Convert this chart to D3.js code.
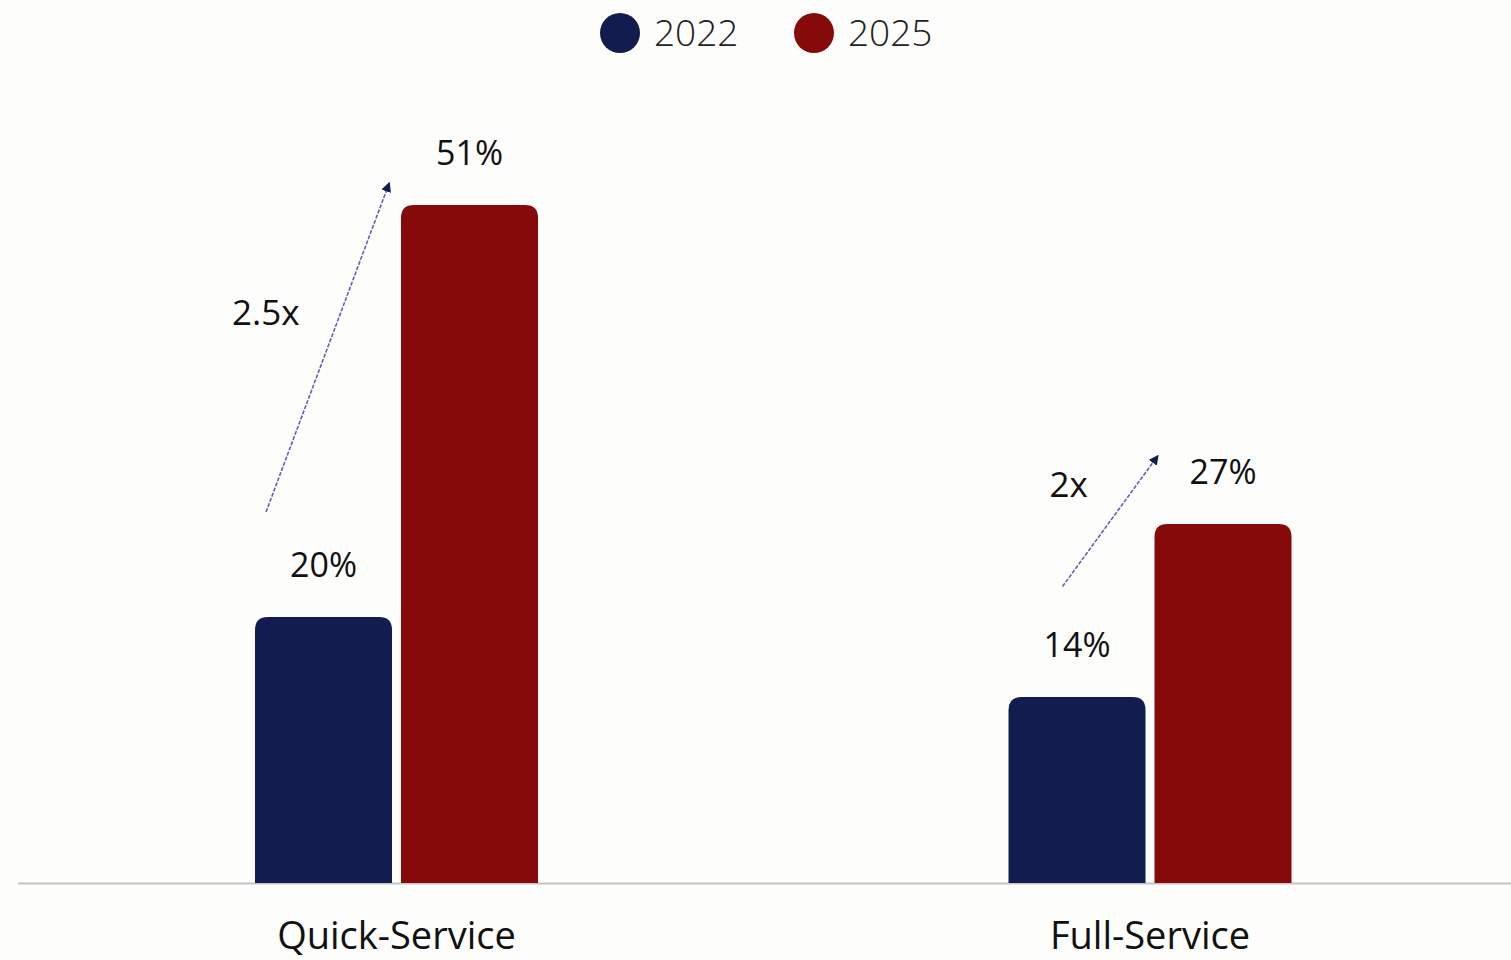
<!DOCTYPE html>
<html><head><meta charset="utf-8">
<script src="https://cdn.jsdelivr.net/npm/d3@7"></script>
<style>
html,body{margin:0;padding:0;background:#fdfdfc;}
svg{display:block;}
text{font-family:"Open Sans","Noto Sans",sans-serif;}
</style></head>
<body>
<svg id="chart" width="1511" height="960"></svg>
<script>
const categories = ["Quick-Service", "Full-Service"];
const seriesNames = ["2022", "2025"];
const values2022 = [20, 14];
const values2025 = [51, 27];
const growthLabels = ["2.5x", "2x"];
const colors = ["#131c4e", "#860a0a"];

const svg = d3.select("#chart");
const W = 1511, H = 960;
const baseY = 883;

const x = d3.scaleBand().domain(categories).range([19.75, 1526.75]).padding(0);
const xs = d3.scaleBand().domain(seriesNames).range([-141.5, 141.5]).paddingInner(9/146);
const y = d3.scaleLinear().domain([0, 51]).range([baseY, 205]);

const data = categories.map((c, i) => ({cat: c, vals: [values2022[i], values2025[i]], growth: growthLabels[i]}));

// axis baseline
svg.append("line").attr("x1", 18).attr("x2", W).attr("y1", baseY + 0.5).attr("y2", baseY + 0.5)
  .attr("stroke", "#c4c4c4").attr("stroke-width", 2);

function topRounded(x0, y0, w, h, r) {
  r = Math.min(r, h, w / 2);
  return `M${x0},${y0 + h}V${y0 + r}Q${x0},${y0} ${x0 + r},${y0}H${x0 + w - r}Q${x0 + w},${y0} ${x0 + w},${y0 + r}V${y0 + h}Z`;
}

const g = svg.append("g");
data.forEach(d => {
  const cx = x(d.cat) + x.bandwidth() / 2;
  seriesNames.forEach((s, j) => {
    const v = d.vals[j];
    const bx = cx + xs(s);
    const bw = xs.bandwidth();
    g.append("path").attr("d", topRounded(bx, y(v), bw, baseY - y(v), 13)).attr("fill", colors[j]);
    g.append("text").attr("x", bx + bw / 2).attr("y", y(v) - 40)
      .attr("text-anchor", "middle").attr("font-size", 34).attr("fill", "#111")
      .text(v + "%");
  });
  g.append("text").attr("x", cx).attr("y", 949).attr("text-anchor", "middle")
    .attr("font-size", 38).attr("fill", "#111").text(d.cat);
});

// arrow marker
const defs = svg.append("defs");
defs.append("marker").attr("id", "arr").attr("viewBox", "0 0 10 10").attr("refX", 8).attr("refY", 5)
  .attr("markerWidth", 10).attr("markerHeight", 10).attr("markerUnits", "userSpaceOnUse").attr("orient", "auto")
  .append("path").attr("d", "M0,0L10,5L0,10Z").attr("fill", "#131c4e");

// growth annotations (positioned relative to bars)
const annot = [
  {i: 0, sx: 11, sv: 27.9, ex: -12, ev: 52.6, lx: -23, lv: 41.96},
  {i: 1, sx: 54, sv: 22.3, ex: 3, ev: 32.1, lx: 41, lv: 29.0}
];
annot.forEach(a => {
  const d = data[a.i];
  const cx = x(d.cat) + x.bandwidth() / 2;
  const navyX = cx + xs("2022"), redX = cx + xs("2025");
  svg.append("line").attr("x1", navyX + a.sx).attr("y1", y(a.sv)).attr("x2", redX + a.ex).attr("y2", y(a.ev))
    .attr("stroke", "#6a60b3").attr("stroke-width", 1.6).attr("stroke-dasharray", "4,1.5")
    .attr("marker-end", "url(#arr)");
  svg.append("text").attr("x", navyX + a.lx).attr("y", y(a.lv)).attr("font-size", 35).attr("fill", "#111")
    .text(d.growth);
});

// legend
const leg = svg.append("g");
const legX = [620, 814];
seriesNames.forEach((s, j) => {
  leg.append("circle").attr("cx", legX[j]).attr("cy", 33).attr("r", 20).attr("fill", colors[j]);
  leg.append("text").attr("x", legX[j] + 34).attr("y", 46).attr("font-size", 37).attr("fill", "#222")
    .attr("font-weight", 300).text(s);
});
</script>
</body></html>
